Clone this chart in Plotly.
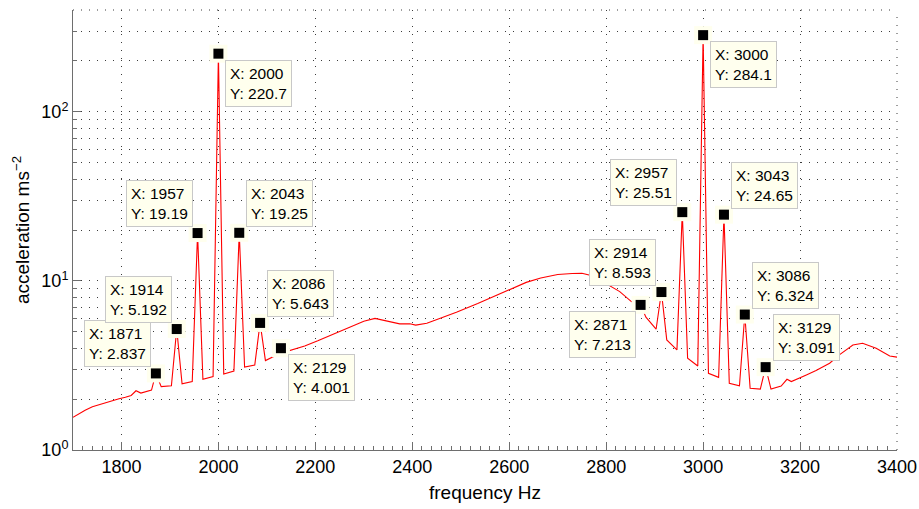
import numpy as np
import plotly.graph_objects as go

# Acceleration spectrum (frequency in Hz, acceleration in m/s^2)
freq = [1700, 1710, 1725, 1740, 1760, 1780, 1795, 1808, 1820, 1830, 1840, 1862,
        1871, 1882, 1903, 1914, 1925, 1946, 1957, 1968, 1989, 2000, 2011, 2032,
        2043, 2054, 2075, 2086, 2097, 2118, 2129, 2140, 2150, 2168, 2178, 2205,
        2235, 2264, 2300, 2323, 2347, 2374, 2395, 2407, 2430, 2455, 2491, 2535,
        2570, 2600, 2635, 2665, 2700, 2730, 2750, 2773, 2807, 2828, 2852,
        2871, 2882, 2903, 2914, 2925, 2946, 2957, 2968, 2989, 3000, 3011, 3032,
        3043, 3054, 3075, 3086, 3097, 3118, 3129, 3140, 3161, 3173, 3182, 3213,
        3233, 3261, 3281, 3309, 3329, 3357, 3385, 3400]
accel = [1.56, 1.63, 1.72, 1.80, 1.88, 1.96, 2.01, 2.05, 2.10, 2.24, 2.17, 2.26,
         2.837, 2.37, 2.40, 5.192, 2.46, 2.54, 19.19, 2.62, 2.72, 220.7, 2.81, 2.93,
         19.25, 3.09, 3.18, 5.643, 3.38, 3.62, 4.001, 3.82, 3.90, 4.05, 4.12, 4.42,
         4.80, 5.18, 5.78, 6.00, 5.82, 5.57, 5.58, 5.48, 5.62, 5.95, 6.53, 7.35,
         8.10, 8.80, 9.80, 10.40, 10.90, 11.05, 11.10, 10.70, 9.34, 8.64, 7.54,
         7.213, 6.10, 5.18, 8.593, 4.48, 3.91, 25.51, 3.49, 3.14, 284.1, 2.84, 2.69,
         24.65, 2.48, 2.40, 6.324, 2.32, 2.29, 3.091, 2.29, 2.39, 2.62, 2.54, 2.78,
         2.95, 3.26, 3.65, 4.18, 4.28, 4.00, 3.60, 3.54]

# Data tips: labelled points and the corner each label box sits at
tip_freq = [1871, 1914, 1957, 2000, 2043, 2086, 2129,
            2871, 2914, 2957, 3000, 3043, 3086, 3129]
tip_accel = [2.837, 5.192, 19.19, 220.7, 19.25, 5.643, 4.001,
             7.213, 8.593, 25.51, 284.1, 24.65, 6.324, 3.091]
tip_corner = ["ul", "ul", "ul", "lr", "ur", "ur", "lr",
              "ll", "ul", "ul", "lr", "ur", "ur", "ur"]

x_ticks = [1800, 2000, 2200, 2400, 2600, 2800, 3000, 3200, 3400]
y_ticks = [1, 10, 100]
y_ticktext = ["10<sup>0</sup>", "10<sup>1</sup>", "10<sup>2</sup>"]
y_minor = [m * 10 ** d for d in range(0, 3) for m in range(2, 10) if m * 10 ** d <= 400]

FONT = "Liberation Sans, Arial, sans-serif"
TIP_BG = "rgb(255,255,238)"
GRID = "rgb(60,60,60)"
AXIS = "rgb(110,110,110)"
DOTS = "1px,7px"

fig = go.Figure()

fig.add_trace(go.Scatter(
    x=freq, y=accel, mode="lines",
    line=dict(color="rgb(255,0,0)", width=1.1),
    hoverinfo="skip", showlegend=False, cliponaxis=False,
))

# marker halo + black square for each data tip
fig.add_trace(go.Scatter(
    x=tip_freq, y=tip_accel, mode="markers",
    marker=dict(symbol="square", size=18, color=TIP_BG, line=dict(width=0)),
    hoverinfo="skip", showlegend=False,
))
fig.add_trace(go.Scatter(
    x=tip_freq, y=tip_accel, mode="markers",
    marker=dict(symbol="square", size=10, color="black", line=dict(width=0)),
    hoverinfo="skip", showlegend=False,
))

anchor = {
    "ul": ("right", "bottom", -5, 6),
    "ur": ("left", "bottom", 7, 6),
    "ll": ("right", "top", -5, -6),
    "lr": ("left", "top", 7, -6),
}
for f, v, c in zip(tip_freq, tip_accel, tip_corner):
    xa, ya, dx, dy = anchor[c]
    fig.add_annotation(
        x=f, y=np.log10(v), xref="x", yref="y",
        text=f"X: {f}<br>Y: {v:.4g}",
        showarrow=False, align="left",
        xanchor=xa, yanchor=ya, xshift=dx, yshift=dy,
        font=dict(family=FONT, size=15.5, color="black"),
        bgcolor=TIP_BG, bordercolor="rgb(200,200,200)", borderwidth=1, borderpad=4,
    )

# dotted grid lines along the right and top edges of the plot area
fig.add_shape(type="line", xref="paper", yref="paper", x0=1, x1=1, y0=0, y1=1,
              line=dict(color=GRID, width=1, dash=DOTS), layer="below")
fig.add_shape(type="line", xref="paper", yref="paper", x0=0, x1=1, y0=1, y1=1,
              line=dict(color=GRID, width=1, dash=DOTS), layer="below")

fig.update_layout(
    width=919, height=509,
    margin=dict(l=73, r=22, t=10, b=59, autoexpand=False),
    paper_bgcolor="white", plot_bgcolor="white",
    font=dict(family=FONT, size=18, color="black"),
    showlegend=False,
)

fig.update_xaxes(
    range=[1700, 3400], tickvals=x_ticks, automargin=False,
    ticks="inside", ticklen=8, tickcolor=AXIS, tickwidth=1,
    showline=True, linecolor=AXIS, linewidth=1, mirror=False,
    showgrid=True, gridcolor=GRID, gridwidth=1, griddash=DOTS,
    zeroline=False,
    minor=dict(dtick=20, tick0=1700, ticks="inside", ticklen=4, tickcolor=AXIS, showgrid=False),
    tickfont=dict(size=18),
    title=dict(text="frequency Hz", font=dict(size=19), standoff=10),
)
fig.update_yaxes(
    type="log", range=[0, np.log10(400)], automargin=False,
    tickvals=y_ticks, ticktext=y_ticktext,
    ticks="inside", ticklen=8, tickcolor=AXIS, tickwidth=1,
    showline=True, linecolor=AXIS, linewidth=1, mirror=False,
    showgrid=True, gridcolor=GRID, gridwidth=1, griddash=DOTS,
    zeroline=False,
    minor=dict(tickvals=y_minor, ticks="inside", ticklen=4, tickcolor=AXIS,
               showgrid=True, gridcolor=GRID, gridwidth=1, griddash=DOTS),
    tickfont=dict(size=18),
    title=dict(text="acceleration ms<sup>\u22122</sup>", font=dict(size=19), standoff=6),
)

fig.write_html("out.html")
